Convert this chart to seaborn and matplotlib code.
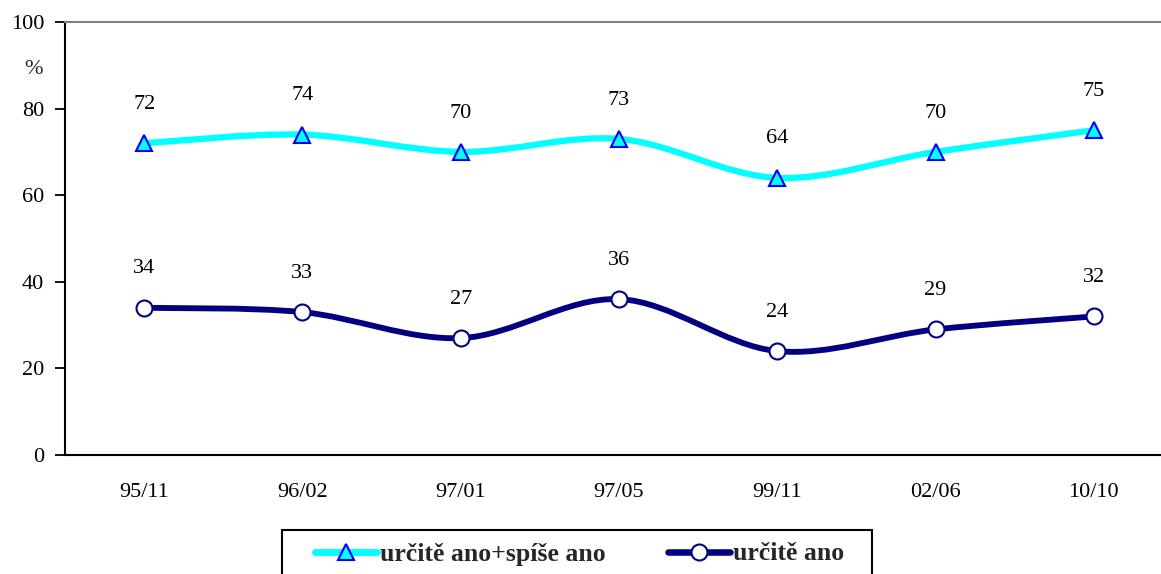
import numpy as np
import pandas as pd
import matplotlib
matplotlib.use("Agg")
import matplotlib.pyplot as plt
from matplotlib.path import Path
from matplotlib.patches import PathPatch, Rectangle
from matplotlib.lines import Line2D
import seaborn as sns

# data
periods = ["95/11", "96/02", "97/01", "97/05", "99/11", "02/06", "10/10"]
yes_plus_rather = [72, 74, 70, 73, 64, 70, 75]
yes_definitely = [34, 33, 27, 36, 24, 29, 32]
names = ["určitě ano+spíše ano", "určitě ano"]

sns.set_theme(style="white")
plt.rcParams["font.family"] = ["Liberation Serif", "DejaVu Serif"]

df = pd.DataFrame({"period": periods * 2,
                   "pos": list(range(len(periods))) * 2,
                   "value": yes_plus_rather + yes_definitely,
                   "series": [names[0]] * 7 + [names[1]] * 7})

W, H = 1161, 574
fig = plt.figure(figsize=(W / 100, H / 100), dpi=100)
ax = fig.add_axes([65 / W, 119 / H, 1108 / W, 433 / H])


def smooth_path(xs, ys):
    # Excel-like smoothed line: cubic Bezier through the points
    pts = np.column_stack([xs, ys]).astype(float)
    verts = [pts[0]]
    codes = [Path.MOVETO]
    n = len(pts)
    for i in range(n - 1):
        p0 = pts[max(i - 1, 0)]
        p1 = pts[i]
        p2 = pts[i + 1]
        p3 = pts[min(i + 2, n - 1)]
        c1 = p1 + (p2 - p0) / 6.0
        c2 = p2 - (p3 - p1) / 6.0
        verts += [c1, c2, p2]
        codes += [Path.CURVE4] * 3
    return Path(verts, codes)


styles = {
    names[0]: dict(color="#00FFFF", lw=4.5, marker="^", mfc="#00FFFF", mec="#0000FF", ms=12),
    names[1]: dict(color="#000080", lw=4.2, marker="o", mfc="white", mec="#000080", ms=11.5),
}

for name in names:
    sub = df[df["series"] == name]
    st = styles[name]
    ax.add_patch(PathPatch(smooth_path(sub["pos"].values, sub["value"].values),
                           facecolor="none", edgecolor=st["color"], lw=st["lw"],
                           capstyle="butt", zorder=2))
    sns.lineplot(data=sub, x="pos", y="value", ax=ax, linestyle="none",
                 marker=st["marker"], markersize=st["ms"], markerfacecolor=st["mfc"],
                 markeredgecolor=st["mec"], markeredgewidth=1.5, legend=False, zorder=3)
    for x, y in zip(sub["pos"], sub["value"]):
        ax.annotate(str(y), (x, y), xytext=(0, 28), textcoords="offset points",
                    ha="center", va="center", fontsize=16, color="black")

ax.set_xlim(-0.5, 6.5)
ax.set_ylim(0, 100)
ax.set_yticks([0, 20, 40, 60, 80, 100])
ax.set_xticks(range(len(periods)))
ax.set_xticklabels(periods)
ax.set_xticks(np.arange(-0.5, 6.6, 1), minor=True)
ax.tick_params(axis="x", which="major", length=0, pad=20, labelsize=16, colors="black")
ax.tick_params(axis="x", which="minor", length=6, width=1.3, direction="out", color="black")
ax.tick_params(axis="y", length=7, width=1.3, direction="out", pad=8, labelsize=16,
               colors="black", left=True)
ax.set_xlabel("")
ax.set_ylabel("")
for side in ["left", "bottom"]:
    ax.spines[side].set_color("black")
    ax.spines[side].set_linewidth(1.5)
ax.spines["top"].set_color("#808080")
ax.spines["top"].set_linewidth(1.5)
ax.spines["right"].set_visible(False)
ax.annotate("%", xy=(0, 89), xycoords=ax.get_yaxis_transform(), xytext=(-16, 0),
            textcoords="offset points", ha="right", va="center", fontsize=16)

# legend box
fig.patches.append(Rectangle((282 / W, -0.05), 590 / W, 0.05 + 44 / H,
                             transform=fig.transFigure, facecolor="white",
                             edgecolor="black", lw=1.5, zorder=5))
handles = [Line2D([], [], color=styles[n]["color"], lw=styles[n]["lw"] + 0.5,
                  marker=styles[n]["marker"], markersize=styles[n]["ms"],
                  markerfacecolor=styles[n]["mfc"], markeredgecolor=styles[n]["mec"],
                  markeredgewidth=1.5) for n in names]
leg = fig.legend(handles, names, loc="center left", ncol=2,
                 bbox_to_anchor=(315 / W, 20 / H), borderaxespad=0, borderpad=0,
                 prop={"weight": "bold", "size": 18.5}, frameon=False,
                 handlelength=2.4, handletextpad=0.12, columnspacing=2.45)
leg.set_zorder(6)

fig.savefig("out.png", dpi=100)
